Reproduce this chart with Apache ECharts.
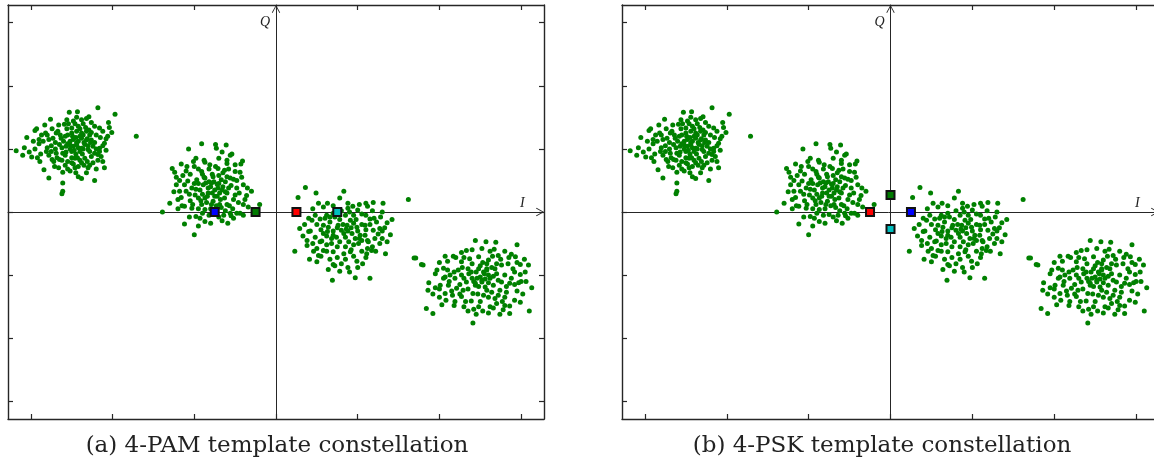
<!DOCTYPE html>
<html><head><meta charset="utf-8">
<script src="https://cdn.jsdelivr.net/npm/echarts@6/dist/echarts.min.js"></script>
<style>html,body{margin:0;padding:0;background:#fff}#c{width:1154px;height:462px}</style>
</head><body><div id="c"></div>
<script>
// Received samples (I, Q), four clusters
const cluster1 = [
[-3.18,0.97],[-3.10,0.90],[-3.08,1.02],[-3.05,1.18],[-2.99,0.87],[-2.95,1.29],[-2.93,1.32],[-2.83,1.38],[-2.76,1.47],
[-2.84,0.67],[-2.78,0.54],[-2.89,0.80],[-2.61,0.46],[-2.62,0.29],[-2.61,0.33],[-2.53,1.58],[-2.43,1.59],[-2.18,1.65],
[-1.97,1.55],[-2.29,1.51],[-1.71,1.20],[-2.05,1.42],[-2.04,1.34],[-2.01,1.26],[-2.08,1.16],[-2.10,1.09],[-2.12,0.80],
[-2.10,0.70],[-2.22,0.50],[-2.38,0.53],[-2.42,0.56],[-2.52,0.65],[-2.61,0.63],[-2.71,0.72],[-2.74,0.83],[-2.81,0.96],
[-2.85,1.12],[-2.87,1.22],[-2.73,1.17],[-2.69,1.25],[-2.59,1.39],[-2.48,1.44],[-2.38,1.46],[-2.26,1.42],[-2.16,1.33],
[-2.20,1.22],[-2.16,1.01],[-2.18,0.91],[-2.24,0.78],[-2.30,0.70],[-2.42,0.72],[-2.50,0.78],[-2.65,0.83],[-2.75,0.96],
[-2.44,1.07],[-2.48,1.15],[-2.38,1.17],[-2.34,1.07],[-2.40,0.96],[-2.50,0.96],[-2.57,1.04],[-2.55,1.22],[-2.44,1.28],
[-2.32,1.28],[-2.26,1.14],[-2.28,0.96],[-2.34,0.85],[-2.46,0.85],[-2.61,0.93],[-2.65,1.07],[-2.63,1.17],[-2.42,1.36],
[-2.50,1.33],[-2.24,1.04],[-2.22,0.93],[-2.38,0.78],[-2.55,0.80],[-2.69,0.93],[-2.67,1.28],[-2.42,1.12],[-2.48,1.04],
[-2.32,1.14],[-2.38,1.01],[-2.52,1.12],[-2.36,1.22],[-2.45,0.92],[-2.58,0.90],[-2.30,0.99],
[-2.40,1.20],[-2.45,1.18],[-2.35,1.10],[-2.30,1.05],[-2.42,1.02],[-2.47,0.98],[-2.52,1.00],[-2.55,1.08],[-2.60,1.12],
[-2.58,1.20],[-2.50,1.25],[-2.40,1.32],[-2.33,1.34],[-2.28,1.22],[-2.22,1.10],[-2.20,1.00],[-2.26,0.88],[-2.31,0.80],
[-2.40,0.82],[-2.50,0.86],[-2.57,0.95],[-2.62,1.02],[-2.70,1.10],[-2.75,1.05],[-2.78,1.15],[-2.64,1.22],[-2.56,1.32],
[-2.46,1.40],[-2.36,1.40],[-2.29,1.30],[-2.15,1.18],[-2.12,1.05],[-2.18,0.82],[-2.35,0.74],[-2.46,0.70],[-2.58,0.74],
[-2.68,0.86],[-2.80,1.02],[-2.90,1.08],[-2.95,1.00],[-2.88,0.92],[-2.37,0.92],[-2.43,0.86],[-2.36,1.00],[-2.31,1.16],
[-2.44,1.10],[-2.52,1.06],[-2.49,1.20],[-2.38,1.25],[-2.27,1.10],
[-2.90,1.15],[-2.82,1.25],[-2.78,0.90],[-2.72,0.80],[-2.66,0.70],[-2.55,0.68],[-2.45,0.62],[-2.32,0.62],[-2.20,0.68],
[-2.14,0.88],[-2.08,0.98],[-2.06,1.20],[-2.12,1.28],[-2.22,1.36],[-2.32,1.48],[-2.44,1.50],[-2.56,1.46],[-2.66,1.38],
[-2.74,1.32],[-2.80,1.22],[-2.97,1.12],[-3.02,0.95],[-2.92,0.86],[-2.70,1.00],[-2.62,0.82],[-2.48,0.76],[-2.28,0.74],
[-2.16,0.96],[-2.26,1.26],[-2.54,1.40]
];
const cluster2 = [
[-0.91,1.08],[-1.07,1.00],[-0.74,1.07],[-0.73,1.01],[-0.61,1.06],[-0.54,0.92],[-0.56,0.90],[-0.41,0.81],[-0.43,0.76],
[-0.60,0.77],[-1.27,0.69],[-1.16,0.76],[-1.09,0.72],[-1.01,0.80],[-0.87,0.79],[-0.81,0.75],[-0.71,0.69],[-0.50,0.64],
[-0.44,0.63],[-1.24,0.63],[-1.22,0.43],[-1.25,0.32],[-1.30,0.14],[-1.20,0.20],[-1.16,0.23],[-1.39,0.00],[-1.12,0.09],
[-1.03,0.06],[-0.98,-0.07],[-1.12,-0.19],[-1.00,-0.36],[-0.87,-0.15],[-0.59,-0.18],[-0.56,-0.02],[-0.48,-0.02],[-0.44,-0.02],
[-0.40,0.12],[-0.36,0.26],[-0.30,0.33],[-0.20,0.12],[-0.67,0.07],[-0.79,0.12],[-0.91,0.12],[-0.95,0.22],[-0.87,0.22],
[-0.75,0.25],[-0.63,0.22],[-0.50,0.27],[-0.48,0.38],[-0.58,0.38],[-0.71,0.38],[-0.83,0.38],[-0.93,0.35],[-1.03,0.38],
[-1.10,0.33],[-1.08,0.49],[-0.97,0.51],[-0.87,0.54],[-0.77,0.56],[-0.67,0.51],[-0.56,0.54],[-1.14,0.58],[-0.91,0.64],
[-0.79,0.46],[-0.89,0.43],[-0.99,0.27],[-0.83,0.30],[-0.69,0.30],[-0.77,0.17],[-0.87,0.04],[-0.75,-0.04],[-0.93,-0.10],
[-1.12,0.43],[-1.18,0.33],[-0.40,0.43],[-0.65,0.62],[-0.82,0.48],[-0.72,0.44],[-0.62,0.32],[-0.92,0.18],
[-0.80,0.40],[-0.75,0.35],[-0.70,0.45],[-0.65,0.40],[-0.60,0.30],[-0.68,0.20],[-0.73,0.10],[-0.80,0.05],[-0.85,0.15],
[-0.90,0.28],[-0.95,0.45],[-0.88,0.55],[-0.78,0.60],[-0.70,0.58],[-0.62,0.48],[-0.55,0.42],[-0.52,0.20],[-0.57,0.10],
[-0.62,0.02],[-0.70,-0.08],[-0.82,-0.05],[-0.95,0.05],[-1.05,0.18],[-1.00,0.45],[-1.05,0.60],[-0.95,0.68],[-0.82,0.68],
[-0.74,0.72],[-0.63,0.66],[-0.52,0.52],[-0.45,0.30],[-0.46,0.15],[-0.53,0.05],[-0.78,0.30],[-0.72,0.25],[-0.66,0.35],
[-0.84,0.25],[-0.76,0.48],[-0.86,0.46],[-0.60,0.56],[-0.69,0.12],[-0.64,-0.05],[-0.90,-0.02],[-1.06,0.28],[-0.98,0.36],
[-0.38,0.20],[-0.58,0.68],[-0.90,0.60],
[-1.15,0.10],[-1.18,0.50],[-1.10,0.65],[-1.00,0.72],[-0.88,0.82],[-0.70,0.85],[-0.60,0.82],[-0.50,0.75],[-0.42,0.55],
[-0.35,0.38],[-0.34,0.08],[-0.40,-0.05],[-0.52,-0.10],[-0.66,-0.14],[-0.80,-0.18],[-0.95,-0.22],[-1.06,-0.08],[-1.20,0.05],
[-1.22,0.55],[-0.98,0.85],[-0.66,0.95],[-0.48,0.50],[-0.55,-0.06],[-1.02,0.12],[-0.60,0.12]
];
const cluster3 = [
[0.36,0.39],[0.27,0.23],[0.49,0.30],[0.83,0.33],[0.78,0.22],[0.63,0.14],[0.52,0.14],[1.62,0.20],[1.19,0.15],
[1.31,0.14],[1.30,0.00],[1.12,0.09],[0.94,0.09],[0.29,-0.26],[0.23,-0.62],[0.33,-0.38],[0.40,-0.31],[0.38,-0.53],
[0.41,-0.75],[0.50,-0.79],[0.52,-0.69],[0.58,-0.61],[0.64,-0.91],[0.70,-0.83],[0.78,-0.94],[0.69,-1.08],[0.97,-1.04],
[1.15,-1.05],[0.99,-0.78],[1.06,-0.82],[1.11,-0.66],[1.17,-0.61],[1.34,-0.66],[1.69,-0.73],[1.40,-0.36],[1.36,-0.47],
[1.36,-0.17],[1.27,-0.26],[1.23,-0.16],[1.21,-0.42],[1.27,-0.50],[1.13,-0.47],[0.91,-0.63],[0.83,-0.66],[0.70,-0.63],
[0.68,-0.50],[0.54,-0.47],[0.48,-0.40],[0.44,-0.13],[0.54,-0.11],[0.62,-0.05],[0.72,-0.08],[0.85,-0.05],[0.95,-0.05],
[1.05,-0.03],[1.15,-0.11],[1.09,-0.21],[0.99,-0.24],[0.87,-0.21],[0.76,-0.21],[0.64,-0.24],[0.58,-0.34],[0.70,-0.37],
[0.83,-0.34],[0.93,-0.34],[1.03,-0.37],[0.78,-0.47],[0.89,-0.47],[1.01,-0.50],[1.09,-0.37],[0.66,-0.16],[0.80,-0.29],
[0.91,-0.13],[0.97,-0.42],[0.58,-0.21],[1.19,-0.29],[0.74,-0.40],[0.86,-0.27],[0.95,-0.18],[0.63,-0.31],
[0.75,-0.25],[0.82,-0.20],[0.88,-0.30],[0.92,-0.25],[1.00,-0.30],[1.05,-0.20],[1.10,-0.28],[1.12,-0.45],[1.05,-0.45],
[0.95,-0.52],[0.85,-0.55],[0.75,-0.55],[0.68,-0.42],[0.62,-0.38],[0.55,-0.28],[0.50,-0.20],[0.60,-0.10],[0.70,-0.02],
[0.80,0.02],[0.90,0.00],[1.00,0.03],[1.10,-0.05],[1.20,-0.10],[1.25,-0.35],[1.18,-0.55],[1.05,-0.62],[0.95,-0.70],
[0.85,-0.75],[0.75,-0.72],[0.62,-0.62],[0.50,-0.58],[0.45,-0.50],[0.42,-0.30],[0.48,-0.05],[0.78,-0.12],[0.85,-0.40],
[0.70,-0.30],[0.98,-0.12],[1.02,-0.42],[0.92,-0.60],[0.66,-0.08],[0.56,-0.46],[1.30,-0.30],[1.15,-0.20],[0.72,-0.85],
[0.88,-0.88],
[0.40,-0.10],[0.45,0.05],[0.58,0.08],[0.70,0.10],[0.88,0.14],[1.02,0.12],[1.18,0.02],[1.28,-0.08],[1.33,-0.25],
[1.30,-0.42],[1.22,-0.62],[1.10,-0.72],[1.00,-0.88],[0.90,-0.95],[0.80,-0.82],[0.66,-0.75],[0.55,-0.70],[0.46,-0.62],
[0.38,-0.45],[0.35,-0.20],[1.42,-0.12],[1.10,0.14],[0.62,-0.52],[1.12,-0.58],[0.88,0.06]
];
const cluster4 = [
[1.71,-0.73],[1.78,-0.83],[1.80,-0.84],[1.87,-1.12],[1.86,-1.24],[1.84,-1.53],[1.92,-1.61],[2.03,-1.47],[1.97,-0.92],
[2.05,-0.89],[2.07,-0.70],[2.17,-0.70],[2.27,-0.64],[2.33,-0.61],[2.44,-0.45],[2.57,-0.47],[2.69,-0.48],[2.67,-0.59],
[2.72,-0.69],[2.95,-0.52],[2.88,-0.67],[2.93,-0.71],[3.04,-0.75],[2.99,-0.83],[3.09,-0.84],[2.90,-0.90],[2.99,-0.99],
[3.13,-1.20],[2.97,-1.12],[2.86,-1.13],[2.99,-1.43],[2.86,-1.49],[2.86,-1.61],[3.10,-1.57],[2.77,-1.42],[2.68,-1.37],
[2.53,-1.57],[2.42,-1.54],[2.35,-1.57],[2.41,-1.76],[2.39,-1.41],[2.27,-1.34],[2.16,-1.32],[2.07,-1.29],[2.01,-1.16],
[2.11,-1.16],[2.19,-1.05],[2.13,-1.00],[2.07,-1.03],[2.23,-0.92],[2.27,-0.79],[2.37,-0.74],[2.48,-0.71],[2.60,-0.76],
[2.58,-0.90],[2.48,-0.90],[2.39,-0.95],[2.50,-1.03],[2.60,-1.00],[2.70,-0.98],[2.80,-1.00],[2.76,-1.11],[2.66,-1.16],
[2.56,-1.19],[2.44,-1.16],[2.33,-1.11],[2.29,-1.24],[2.41,-1.29],[2.54,-1.32],[2.64,-1.27],[2.74,-1.24],[2.82,-1.27],
[2.84,-0.82],[2.76,-0.84],[2.52,-1.11],[2.46,-1.05],[2.54,-0.95],[2.27,-1.00],[2.21,-1.21],[2.19,-1.42],[2.62,-1.50],
[2.56,-1.06],[2.64,-0.88],[2.42,-1.10],[2.58,-1.24],
[2.55,-0.98],[2.62,-1.05],[2.50,-0.85],[2.45,-0.95],[2.58,-0.82],[2.68,-0.90],[2.72,-1.08],[2.60,-1.12],[2.48,-1.18],
[2.40,-1.05],[2.35,-0.90],[2.30,-1.05],[2.25,-1.15],[2.35,-1.22],[2.47,-1.30],[2.60,-1.35],[2.72,-1.32],[2.82,-1.18],
[2.88,-1.05],[2.92,-0.95],[2.85,-0.72],[2.75,-0.75],[2.65,-0.70],[2.53,-0.80],[2.40,-0.82],[2.28,-0.88],[2.18,-0.95],
[2.12,-1.10],[2.15,-1.25],[2.25,-1.30],[2.32,-1.42],[2.50,-1.42],[2.70,-1.45],[2.80,-1.35],[2.95,-1.25],[3.00,-1.10],
[2.66,-1.02],[2.52,-1.08],[2.44,-1.13],[2.58,-0.92],[2.70,-0.82],[2.36,-0.98],[2.05,-1.05],[1.95,-1.20],[2.00,-1.35],
[2.60,-1.60],[2.78,-1.55],[2.30,-0.72],
[1.95,-0.98],[2.00,-0.80],[2.10,-0.78],[2.20,-0.72],[2.40,-0.60],[2.52,-0.58],[2.62,-0.62],[2.80,-0.62],[2.95,-0.80],
[3.05,-0.95],[3.06,-1.10],[3.02,-1.30],[2.92,-1.40],[2.80,-1.48],[2.66,-1.52],[2.48,-1.50],[2.30,-1.50],[2.18,-1.48],
[2.08,-1.40],[2.00,-1.22],[1.92,-1.30],[2.10,-0.92],[2.92,-1.15],[2.74,-1.62],[2.45,-1.62]
];
const receivedSamples = cluster1.concat(cluster2, cluster3, cluster4);

// Template constellations
const pamTemplate = [[-0.75,0],[-0.25,0],[0.25,0],[0.75,0]];
const pamColors = ['#0000ff','#007a00','#ff0000','#00bfbf'];
const pskTemplate = [[-0.25,0],[0,0.27],[0.25,0],[0,-0.27]];
const pskColors = ['#ff0000','#007a00','#0000ff','#00bfbf'];

const tickValues = [-3,-2,-1,0,1,2,3];
const axisLimit = 3.28;
const captions = ['(a) 4-PAM template constellation','(b) 4-PSK template constellation'];
const axisNames = ['I','Q'];

const panels = [
  {left: 8, top: 5, width: 536, height: 414, capX: 277, template: pamTemplate, colors: pamColors},
  {left: 622, top: 5, width: 537, height: 414, capX: 882, template: pskTemplate, colors: pskColors}
];

const FRAME = '#262626';
const arrowPath = 'path://M0,9 L5,0 L10,9 L9.1,9.6 L5,1.9 L0.9,9.6 Z';

const grid = [], xAxis = [], yAxis = [], series = [], graphic = [];
panels.forEach((p, k) => {
  const g0 = grid.length;
  grid.push({left: p.left, top: p.top, width: p.width, height: p.height, containLabel: false, outerBoundsMode: 'none'});
  grid.push({left: p.left, top: p.top, width: p.width, height: p.height, containLabel: false, outerBoundsMode: 'none'});
  const frameAxis = (pos) => ({
    type: 'value', gridIndex: g0, position: pos, min: -axisLimit, max: axisLimit,
    axisLine: {show: true, onZero: false, lineStyle: {color: FRAME, width: 1.4}},
    axisTick: {show: true, inside: true, length: 5, customValues: tickValues, lineStyle: {color: FRAME, width: 1.2}},
    axisLabel: {show: false}, splitLine: {show: false}
  });
  const xb = xAxis.length;
  xAxis.push(frameAxis('bottom'), frameAxis('top'));
  const yb = yAxis.length;
  yAxis.push(frameAxis('left'), frameAxis('right'));
  // centre I/Q cross with arrows
  xAxis.push({
    type: 'value', gridIndex: g0 + 1, min: -axisLimit, max: axisLimit,
    axisLine: {show: true, onZero: true, symbol: ['none', arrowPath], symbolSize: [9, 8], symbolOffset: [0, -4],
      lineStyle: {color: FRAME, width: 1}},
    axisTick: {show: false}, axisLabel: {show: false}, splitLine: {show: false},
    name: axisNames[0], nameLocation: 'end', nameGap: -24,
    nameTextStyle: {fontFamily: 'Liberation Serif', fontStyle: 'italic', fontSize: 14, color: '#222',
      verticalAlign: 'bottom', align: 'left', padding: [0, 0, 2, 0]}
  });
  yAxis.push({
    type: 'value', gridIndex: g0 + 1, min: -axisLimit, max: axisLimit,
    axisLine: {show: true, onZero: true, symbol: ['none', arrowPath], symbolSize: [9, 8], symbolOffset: [0, -4],
      lineStyle: {color: FRAME, width: 1}},
    axisTick: {show: false}, axisLabel: {show: false}, splitLine: {show: false},
    name: axisNames[1], nameLocation: 'end', nameGap: -10,
    nameTextStyle: {fontFamily: 'Liberation Serif', fontStyle: 'italic', fontSize: 14, color: '#222',
      verticalAlign: 'top', align: 'right', padding: [0, 6, 0, 0]}
  });
  series.push({
    type: 'scatter', xAxisIndex: xb, yAxisIndex: yb, data: receivedSamples,
    symbol: 'circle', symbolSize: 5, itemStyle: {color: '#008000', opacity: 1}, z: 3, silent: true
  });
  series.push({
    type: 'scatter', xAxisIndex: xb, yAxisIndex: yb, symbol: 'rect', symbolSize: 8, z: 5, silent: true,
    data: p.template.map((v, i) => ({value: v, itemStyle: {color: p.colors[i], borderColor: '#111', borderWidth: 2, opacity: 1}}))
  });
  graphic.push({
    type: 'text', x: p.capX, y: 446,
    style: {text: captions[k], align: 'center', verticalAlign: 'middle', fill: '#222',
      font: '23px "DejaVu Serif"'}
  });
});

const chart = echarts.init(document.getElementById('c'), null, {renderer: 'canvas'});
chart.setOption({animation: false, backgroundColor: '#fff', grid, xAxis, yAxis, series, graphic});
</script></body></html>
